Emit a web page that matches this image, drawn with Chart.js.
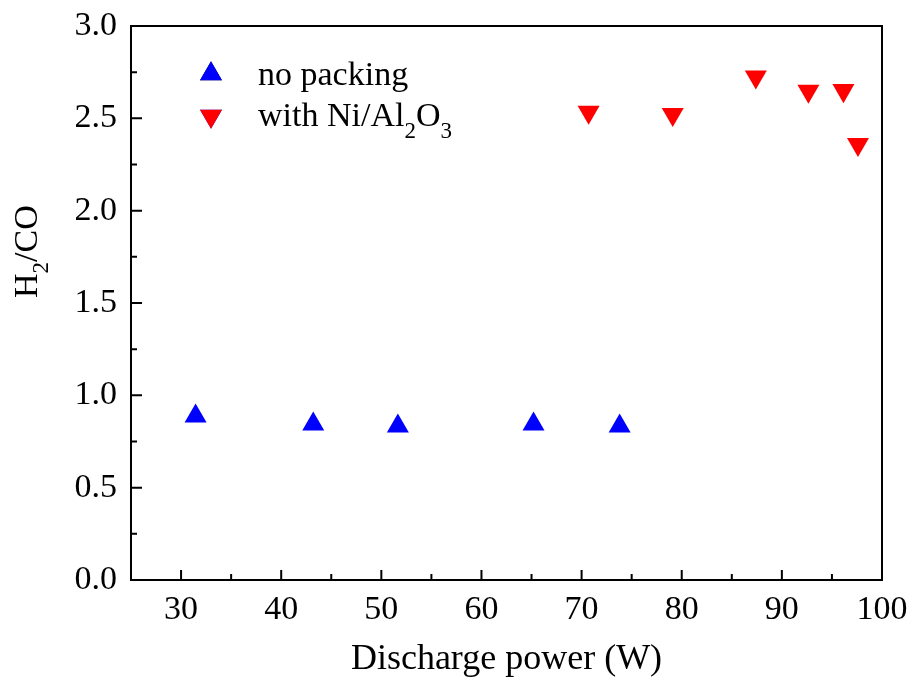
<!DOCTYPE html>
<html>
<head>
<meta charset="utf-8">
<script src="https://cdn.jsdelivr.net/npm/chart.js@4/dist/chart.umd.min.js"></script>
<style>
  html, body { margin: 0; padding: 0; background: #ffffff; }
  #wrap { width: 914px; height: 695px; }
</style>
</head>
<body>
<div id="wrap"><canvas id="plot"></canvas></div>
<script>
// Data
const noPackingPower = [31.45, 43.2, 51.65, 65.2, 73.8];
const noPackingRatio = [0.887, 0.844, 0.833, 0.844, 0.833];
const niPower = [70.7, 79.1, 87.4, 92.65, 96.15, 97.6];
const niRatio = [2.534, 2.522, 2.725, 2.648, 2.651, 2.359];

const xTickValues = [30, 40, 50, 60, 70, 80, 90, 100];
const yTickValues = [0, 0.5, 1.0, 1.5, 2.0, 2.5, 3.0];

const FONT = '"Liberation Serif", "Times New Roman", serif';
const MARK_R = 12.7;

const toPoints = (xs, ys) => xs.map((x, i) => ({ x: x, y: ys[i] }));

// frame + inward major/minor ticks, like the original plot
const framePlugin = {
    id: 'frame',
    afterDraw(chart) {
        const { ctx, chartArea: a, scales } = chart;
        ctx.save();
        ctx.strokeStyle = '#000';
        ctx.lineWidth = 2;
        ctx.strokeRect(a.left, a.top, a.right - a.left, a.bottom - a.top);

        ctx.beginPath();
        xTickValues.forEach((v, i) => {
            const px = scales.x.getPixelForValue(v);
            ctx.moveTo(px, a.bottom);
            ctx.lineTo(px, a.bottom - 10);
            const prev = i === 0 ? v - 10 : xTickValues[i - 1];
            const mid = (prev + v) / 2;
            if (mid > scales.x.min) {
                const mx = scales.x.getPixelForValue(mid);
                ctx.moveTo(mx, a.bottom);
                ctx.lineTo(mx, a.bottom - 6);
            }
        });
        yTickValues.forEach((v, i) => {
            const py = scales.y.getPixelForValue(v);
            ctx.moveTo(a.left, py);
            ctx.lineTo(a.left + 11, py);
            if (i > 0) {
                const my = scales.y.getPixelForValue((yTickValues[i - 1] + v) / 2);
                ctx.moveTo(a.left, my);
                ctx.lineTo(a.left + 6, my);
            }
        });
        ctx.stroke();
        ctx.restore();
    }
};

// legend and y title need subscripts, so draw them here
const textPlugin = {
    id: 'subText',
    afterDraw(chart) {
        const ctx = chart.ctx;
        const ds = chart.data.datasets;
        ctx.save();
        ctx.fillStyle = '#000';
        ctx.textBaseline = 'alphabetic';

        // legend
        Chart.helpers.drawPoint(ctx, {
            pointStyle: 'triangle', radius: MARK_R, rotation: 0, borderWidth: 0
        }, 211, 74);
        ctx.fillStyle = ds[0].backgroundColor;
        ctx.fill();
        Chart.helpers.drawPoint(ctx, {
            pointStyle: 'triangle', radius: MARK_R, rotation: 180, borderWidth: 0
        }, 211, 116);
        ctx.fillStyle = ds[1].backgroundColor;
        ctx.fill();

        ctx.fillStyle = '#000';
        ctx.font = '34px ' + FONT;
        ctx.fillText('no packing', 258, 85);
        let x = 258;
        const parts = [['with Ni/Al', false], ['2', true], ['O', false], ['3', true]];
        parts.forEach(([t, sub]) => {
            ctx.font = (sub ? '23px ' : '34px ') + FONT;
            ctx.fillText(t, x, sub ? 138 : 126);
            x += ctx.measureText(t).width;
        });

        // y axis title, rotated
        ctx.translate(37, 298);
        ctx.rotate(-Math.PI / 2);
        let y = 0;
        [['H', false], ['2', true], ['/CO', false]].forEach(([t, sub]) => {
            ctx.font = (sub ? '23px ' : '34px ') + FONT;
            ctx.fillText(t, y, sub ? 11 : 0);
            y += ctx.measureText(t).width;
        });
        ctx.restore();
    }
};

const chart = new Chart(document.getElementById('plot'), {
    type: 'scatter',
    data: {
        datasets: [
            {
                label: 'no packing',
                data: toPoints(noPackingPower, noPackingRatio),
                pointStyle: 'triangle',
                pointRadius: MARK_R,
                pointHoverRadius: MARK_R,
                rotation: 0,
                backgroundColor: '#0000ff',
                borderWidth: 0
            },
            {
                label: 'with Ni/Al2O3',
                data: toPoints(niPower, niRatio),
                pointStyle: 'triangle',
                pointRadius: MARK_R,
                pointHoverRadius: MARK_R,
                rotation: 180,
                backgroundColor: '#ff0000',
                borderWidth: 0
            }
        ]
    },
    options: {
        responsive: true,
        maintainAspectRatio: false,
        animation: false,
        layout: { padding: { top: 26, right: 32, left: 0, bottom: 0 } },
        plugins: {
            legend: { display: false },
            tooltip: { enabled: false }
        },
        scales: {
            x: {
                type: 'linear',
                min: 25,
                max: 100,
                grid: { display: false, drawTicks: false },
                border: { display: false },
                afterBuildTicks: s => { s.ticks = xTickValues.map(v => ({ value: v })); },
                afterFit: s => {
                    s.height = 115;
                    s.paddingLeft = 0;
                    s.paddingRight = 0;
                },
                ticks: {
                    color: '#000',
                    padding: 10,
                    maxRotation: 0,
                    font: { family: FONT, size: 34 }
                },
                title: {
                    display: true,
                    text: 'Discharge power (W)',
                    color: '#000',
                    padding: { top: 0, bottom: 14 },
                    font: { family: FONT, size: 36 }
                }
            },
            y: {
                type: 'linear',
                min: 0,
                max: 3,
                grid: { display: false, drawTicks: false },
                border: { display: false },
                afterBuildTicks: s => { s.ticks = yTickValues.map(v => ({ value: v })); },
                afterFit: s => {
                    s.width = 131;
                    s.paddingTop = 0;
                    s.paddingBottom = 0;
                },
                ticks: {
                    color: '#000',
                    padding: 14,
                    font: { family: FONT, size: 34 },
                    callback: v => v.toFixed(1)
                }
            }
        }
    },
    plugins: [framePlugin, textPlugin]
});
</script>
</body>
</html>
